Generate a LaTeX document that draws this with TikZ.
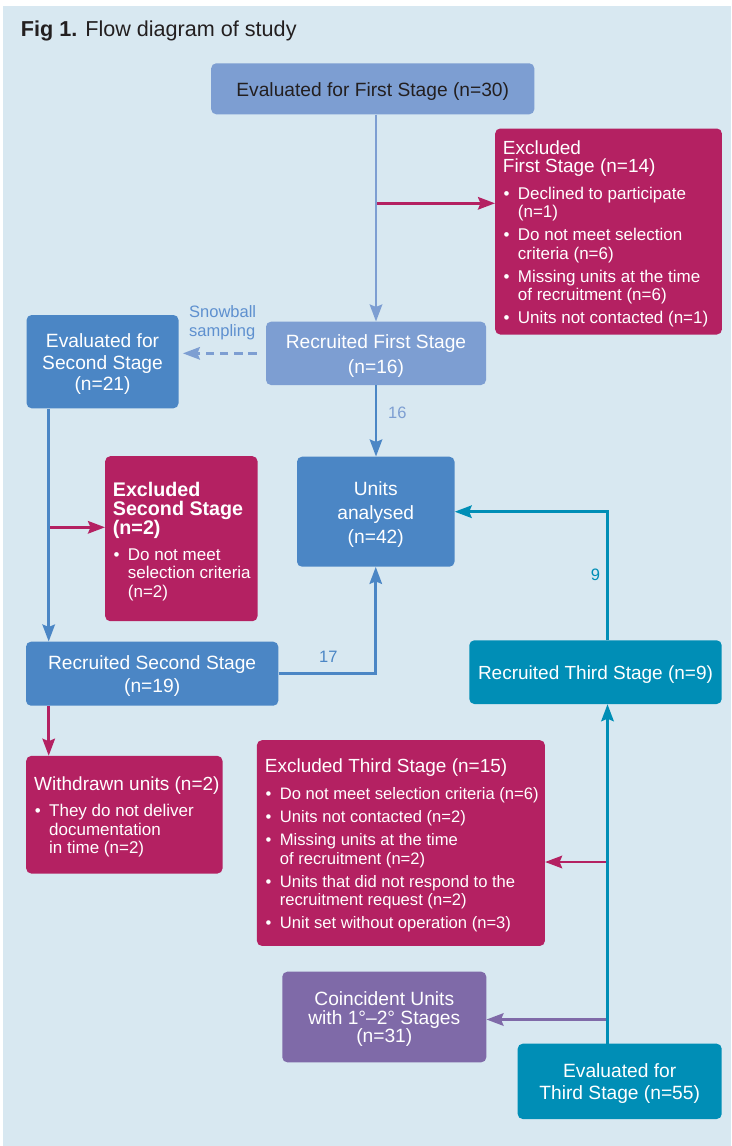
\documentclass[tikz,border=0pt]{standalone}
\usepackage{fontspec}
\setmainfont{Liberation Sans}
\usetikzlibrary{arrows.meta}
\definecolor{bgc}{HTML}{D8E8F1}
\definecolor{lbc}{HTML}{7D9ED2}
\definecolor{mbc}{HTML}{4B86C5}
\definecolor{magc}{HTML}{B42162}
\definecolor{tealc}{HTML}{008EB6}
\definecolor{purc}{HTML}{7F6AA8}
\definecolor{dtext}{HTML}{231F20}
\definecolor{snowc}{HTML}{5E90CF}
\newcommand\fsz[2]{\fontsize{#1}{#2}\selectfont}
\newcommand\hd{\fsz{19}{18}}
\newcommand\bfnt{\fsz{17}{18.5}}
\newcommand\bitem[1]{{\bfnt\noindent\makebox[15pt][l]{\hspace{0.7pt}\textbullet}#1\par}}
\newcommand\bcont[1]{{\bfnt\advance\leftskip by 15pt\noindent #1\par}}
\newcommand\igap{\vspace{4.6pt}}
\newcommand\bxstart[1]{\parindent=0pt\leftskip=#1pt\relax}
\newcommand\dn{\rule{0pt}{18.8pt}}
\newcommand\hs[1]{\rule{0pt}{#1pt}}
\begin{document}
\begin{tikzpicture}[x=1pt,y=-1pt,
  box/.style={rounded corners=5pt, inner sep=0pt, text=white, align=center},
  lbox/.style={rounded corners=5pt, inner sep=0pt, text=white, align=flush left, anchor=north west},
  lab/.style={inner sep=0pt, font=\fsz{16.5}{18.5}},
  arr/.style={line width=2.6pt, -{Stealth[length=17pt,width=12.5pt,inset=2.5pt]}}]
\useasboundingbox (0,0) rectangle (731,1146);
\fill[white] (0,0) rectangle (731,1146);
\fill[bgc] (3,6) rectangle (731,1146);

\node[inner sep=0pt, anchor=base west, text=dtext, font=\fsz{21.6}{24}] (title) at (20.7,36.5) {\textbf{Fig 1.} Flow diagram of study};

% boxes
\node[box, fill=lbc, text=dtext, font=\fsz{19.2}{24}, minimum width=323.1pt, minimum height=51pt] (b1) at (372.75,88.8) {\dn Evaluated for First Stage (n=30)};

\node[lbox, fill=magc, minimum width=226.7pt, minimum height=206pt, text width=224.7pt] (exc1) at (495,128.3)
{\bxstart{6.7}{\hd\hs{18.9}Excluded\\First Stage (n=14)\par}\vspace{8.3pt}%
\bitem{Declined to participate}\bcont{(n=1)}\igap
\bitem{Do not meet selection}\bcont{criteria (n=6)}\igap
\bitem{Missing units at the time}\bcont{of recruitment (n=6)}\igap
\bitem{Units not contacted (n=1)}};

\node[box, fill=lbc, font=\fsz{19.2}{25}, minimum width=220pt, minimum height=63.3pt] (rec1) at (376,353.35) {\dn Recruited First Stage\\(n=16)};

\node[box, fill=mbc, font=\fsz{19.2}{21.5}, minimum width=151.9pt, minimum height=93.3pt] (ev2) at (102.55,361.65) {\dn Evaluated for\\Second Stage\\(n=21)};

\node[box, fill=mbc, font=\fsz{19.2}{24}, minimum width=157.5pt, minimum height=110pt] (units) at (375.75,511.7) {\dn Units\\analysed\\(n=42)};

\node[lbox, fill=magc, minimum width=152.3pt, minimum height=165pt, text width=150.3pt] (exc2) at (105,456)
{\bxstart{6.7}{\fsz{19.7}{19}\bfseries\hs{19.6}Excluded\\Second Stage\\(n=2)\par}\vspace{7.5pt}%
\bitem{Do not meet}\bcont{selection criteria}\bcont{(n=2)}};

\node[box, fill=mbc, font=\fsz{19.2}{23}, minimum width=252.3pt, minimum height=64pt] (rec2) at (152.15,673.7) {\dn Recruited Second Stage\\(n=19)};

\node[box, fill=tealc, font=\fsz{19}{23}, minimum width=252.4pt, minimum height=63.7pt] (rec3) at (595.5,672.15) {\dn Recruited Third Stage (n=9)};

\node[lbox, fill=magc, minimum width=196.3pt, minimum height=117.6pt, text width=194.3pt] (wd) at (26,755.7)
{\bxstart{7}{\hd\hs{18.6}Withdrawn units (n=2)\par}\vspace{7.2pt}%
\bitem{They do not deliver}\bcont{documentation}\bcont{in time (n=2)}};

\node[lbox, fill=magc, minimum width=288pt, minimum height=205.7pt, text width=286pt] (exc3) at (256.7,740)
{\renewcommand\bfnt{\fsz{16.6}{18.5}}\bxstart{7}{\hd\hs{18.6}Excluded Third Stage (n=15)\par}\vspace{8.5pt}%
\bitem{Do not meet selection criteria (n=6)}\igap
\bitem{Units not contacted (n=2)}\igap
\bitem{Missing units at the time}\bcont{of recruitment (n=2)}\igap
\bitem{Units that did not respond to the}\bcont{recruitment request (n=2)}\igap
\bitem{Unit set without operation (n=3)}};

\node[box, fill=purc, font=\fsz{19.2}{18.5}, minimum width=204pt, minimum height=90.6pt] (coin) at (384.3,1017) {\dn Coincident Units\\with 1°–2° Stages\\(n=31)};

\node[box, fill=tealc, font=\fsz{19.2}{21.7}, minimum width=204pt, minimum height=75.3pt] (ev3) at (619.7,1081.35) {\dn Evaluated for\\Third Stage (n=55)};

% helper columns
\coordinate (cA) at (376,0);
\coordinate (cL) at (48.7,0);
\coordinate (cR) at (607.5,0);
\coordinate (j1) at (376,203.3);
\coordinate (j2) at (48.7,527.3);
\coordinate (j3) at (607.5,862);
\coordinate (j4) at (607.5,1019.5);

% connectors
\draw[arr, magc] (j1) -- (j1 -| exc1.west);
\draw[arr, lbc] (b1.south -| cA) -- (rec1.north -| cA);
\draw[arr, lbc, dash pattern=on 8.5pt off 5.7pt] ([xshift=-9pt]rec1.west) -- ([xshift=4.2pt]rec1.west -| ev2.east);
\node[lab, text=snowc, align=left, anchor=north west] (snow) at (189,305.5) {Snowball\\sampling};
\draw[arr, mbc] (rec1.south) -- (rec1.south |- units.north);
\node[lab, text=lbc, anchor=base west] (l16) at (388,418) {16};
\draw[arr, magc] (j2) -- (j2 -| exc2.west);
\draw[arr, mbc] (ev2.south -| cL) -- (rec2.north -| cL);
\draw[arr, mbc] (rec2.east) -| (units.south);
\node[lab, text=mbc, anchor=base west] (l17) at (319,662.7) {17};
\draw[arr, magc] (rec2.south -| cL) -- (wd.north -| cL);
\draw[arr, tealc] (rec3.north -| cR) |- (units.east);
\node[lab, text=tealc, anchor=base west] (l9) at (590.7,580) {9};
\draw[arr, magc] (j3) -- (j3 -| exc3.east);
\draw[arr, purc] (j4) -- (j4 -| coin.east);
\draw[arr, tealc] (ev3.north -| cR) -- (rec3.south -| cR);
\end{tikzpicture}
\end{document}
